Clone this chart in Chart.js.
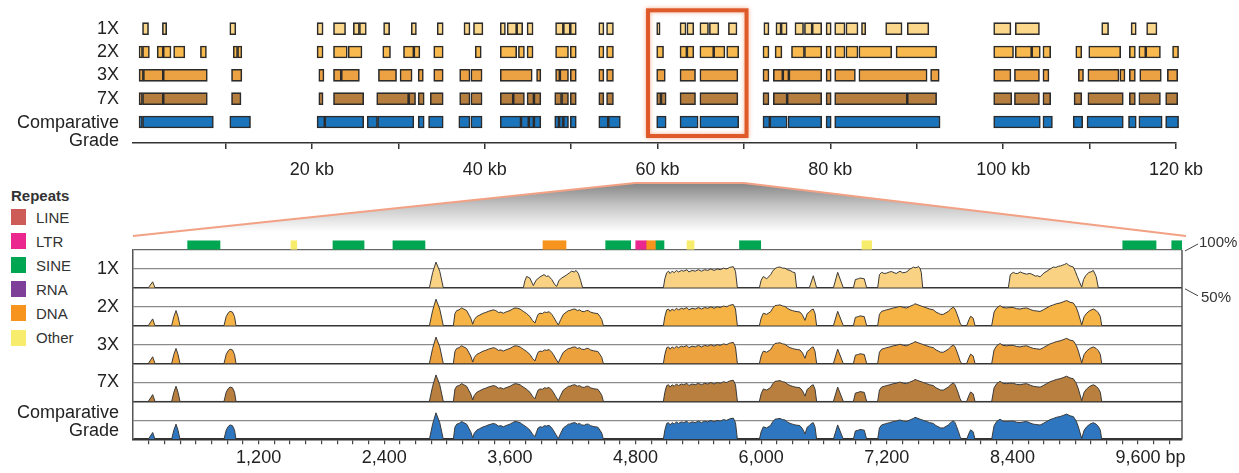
<!DOCTYPE html>
<html>
<head>
<meta charset="utf-8">
<title>Conservation by sequencing depth</title>
<script src="https://cdn.jsdelivr.net/npm/chart.js@4.4.0/dist/chart.umd.min.js"></script>
<style>
  html, body { margin: 0; padding: 0; background: #fff; }
  #wrap { position: relative; width: 1239px; height: 473px; overflow: hidden; font-family: "Liberation Sans", Arial, sans-serif; }
  #wrap canvas { position: absolute; left: 0; top: 0; }
  #legend { position: absolute; left: 11px; top: 187px; color: #333; font-size: 15px; }
  #legend .title { font-weight: bold; height: 18px; line-height: 18px; }
  #legend .item { display: flex; align-items: center; height: 24.1px; }
  #legend .sw { width: 15px; height: 16px; margin-right: 10px; }
</style>
</head>
<body>
<div id="wrap">
  <div id="legend"></div>
  <canvas id="zoomChart" width="1239" height="473"></canvas>
  <canvas id="overviewChart" width="1239" height="473"></canvas>
</div>
<script>
// ---- overview (kb): aligned blocks per sequencing depth ----
const rowLabels = ['1X', '2X', '3X', '7X', ['Comparative', 'Grade']];
const kbTicks = [10, 20, 30, 40, 50, 60, 70, 80, 90, 100, 110, 120];

const blocks1X = [[0.4,1.1],[2.7,3.2],[10.5,11.2],[20.6,21.3],[22.5,23.9],[24.8,25.5],[25.5,26.3],[28.3,29.0],[31.5,32.1],[34.5,35.2],[37.6,38.3],[38.7,39.8],[41.8,42.4],[42.6,43.7],[43.7,44.4],[44.9,45.6],[48.2,49.1],[49.1,49.9],[49.9,50.6],[53.2,53.8],[54.1,54.9],[59.9,60.3],[62.6,63.3],[63.4,64.2],[64.9,65.9],[66.0,67.1],[68.2,69.2],[72.3,72.9],[73.7,74.3],[74.3,75.0],[75.9,76.9],[77.0,77.9],[77.9,79.0],[79.5,80.1],[80.5,81.7],[81.8,83.2],[83.6,84.1],[86.4,88.3],[88.9,91.4],[98.9,100.9],[101.4,104.2],[111.4,112.2],[114.8,115.4],[116.6,117.8]];
const blocks2X = [[0,0.4],[0.4,1.2],[2.1,2.8],[2.8,3.7],[4.0,5.3],[7.1,7.8],[10.9,11.4],[11.4,11.9],[20.6,21.3],[22.5,24.1],[24.2,25.8],[28.2,29.1],[30.6,31.8],[31.8,32.5],[34.1,35.2],[38.9,39.6],[41.8,43.7],[43.9,44.6],[44.9,45.6],[48.2,49.7],[49.9,50.6],[53.2,53.8],[54.1,54.9],[59.9,60.7],[62.6,63.4],[63.4,64.2],[64.9,66.5],[66.5,67.8],[68.0,69.4],[72.2,72.9],[73.6,74.4],[75.5,77.0],[77.0,79.0],[79.5,80.1],[80.5,81.7],[81.8,83.2],[83.3,87.1],[87.6,92.3],[98.9,101.2],[101.4,103.3],[103.3,104.3],[104.6,105.5],[108.4,109.1],[109.9,113.6],[114.6,115.3],[115.7,116.5],[116.5,118.2],[119.6,120.3]];
const blocks3X = [[0,0.5],[0.5,2.8],[2.8,7.9],[10.7,11.9],[20.8,21.4],[22.5,23.4],[23.4,25.5],[27.7,29.8],[30.2,31.6],[32.3,32.9],[34.1,35.2],[37.1,38.3],[38.4,39.7],[41.8,45.5],[46.0,46.5],[48.2,48.7],[48.7,49.7],[49.9,50.6],[53.2,53.8],[54.1,54.9],[59.9,60.9],[62.6,64.4],[64.9,69.3],[72.2,72.9],[73.4,74.5],[74.5,75.2],[75.2,79.0],[79.5,80.1],[80.5,82.9],[83.3,91.2],[91.6,92.6],[98.9,100.9],[101.3,104.2],[104.6,105.3],[108.7,109.3],[109.8,113.4],[113.5,114.1],[114.6,115.3],[115.8,118.3],[119.0,120.2]];
const blocks7X = [[0,0.4],[0.4,2.8],[2.8,7.9],[10.7,11.8],[20.8,21.3],[22.5,26.0],[27.5,31.2],[31.2,32.0],[32.3,33.0],[33.7,35.2],[37.1,38.3],[38.4,39.7],[41.8,43.3],[43.3,44.6],[44.9,45.7],[45.7,46.5],[48.1,48.9],[48.9,49.7],[49.9,50.6],[53.2,53.8],[54.1,54.9],[59.9,60.4],[60.4,61.0],[62.6,64.4],[64.9,69.3],[72.2,72.9],[73.4,75.0],[75.0,79.0],[79.5,80.1],[80.5,88.9],[88.9,92.3],[98.9,101.0],[101.3,104.2],[104.6,105.5],[108.2,109.1],[109.8,113.9],[114.6,115.3],[115.7,118.2],[118.8,120.2]];
const blocksCG = [[0,0.4],[0.4,8.6],[10.5,12.9],[20.6,21.5],[21.5,26.0],[26.4,27.6],[27.6,31.8],[32.3,33.0],[33.5,35.2],[37.0,38.3],[38.4,39.7],[41.8,44.2],[44.2,45.1],[45.1,45.7],[45.7,46.5],[48.1,48.6],[48.6,49.1],[49.1,49.7],[49.9,50.6],[53.2,54.3],[54.3,55.7],[59.9,61.0],[62.6,64.7],[64.9,69.4],[72.2,73.0],[73.0,75.0],[75.1,79.0],[79.5,80.1],[80.5,92.7],[98.9,104.3],[104.6,105.7],[108.1,109.2],[109.7,113.9],[114.5,115.4],[115.7,118.4],[118.8,120.3]];

// ---- zoomed region (bp) ----
const bpTickValues = [1200, 2400, 3600, 4800, 6000, 7200, 8400, 9600];
const bpTickLabels = ['1,200', '2,400', '3,600', '4,800', '6,000', '7,200', '8,400', '9,600'];

const repeatTypes = ['LINE', 'LTR', 'SINE', 'RNA', 'DNA', 'Other'];
const repeatStart = [522, 1509, 1910, 2483, 3916, 4515, 4802, 4907, 4996, 5292, 5793, 6963, 9454, 9922];
const repeatEnd   = [831, 1564, 2207, 2789, 4136, 4754, 4907, 4996, 5072, 5359, 5996, 7056, 9772, 10017];
const repeatKind  = ['SINE', 'Other', 'SINE', 'SINE', 'DNA', 'SINE', 'LTR', 'DNA', 'SINE', 'Other', 'SINE', 'Other', 'SINE', 'SINE'];

// percent identity, [bp, %]
const identity1X = [[0,50],[146,50],[188,58],[210,50],
  [2831,50],[2862,70],[2894,84],[2930,72],[2964,50],
  [3728,50],[3745,60],[3760,65],[3790,63],[3824,53],[3850,60],[3888,64.5],[3926,67.5],[3950,65],[3967,66],[4000,61],[4030,54],[4047,52],[4070,60],[4095,63],[4142,67],[4170,70],[4190,72],[4215,71],[4232,73],[4254,69],[4275,60],[4295,50],
  [5066,50],[5080,62],[5098,70],[5115,72],[5130,69],[5150,72],[5170,70],[5190,73],[5210,71],[5240,73],[5260,72],[5290,74],[5310,71],[5340,73],[5370,72],[5400,74],[5430,72],[5460,74],[5490,73],[5520,75],[5550,73],[5580,75],[5610,74],[5640,76],[5670,75],[5700,77],[5734,78],[5755,72],[5773,50],
  [5983,50],[6000,60],[6021,65],[6053,62],[6091,67.5],[6110,72],[6132,75.5],[6155,77],[6180,77.5],[6205,76],[6228,76],[6250,74],[6276,73],[6300,71],[6323,70],[6339,50],
  [6460,50],[6498,66],[6530,50],
  [6690,50],[6731,70.5],[6785,50],
  [6881,50],[6900,61],[6928,62],[6945,63],[6985,62],[7008,50],
  [7113,50],[7130,67.5],[7151,70.5],[7175,69],[7199,69.5],[7225,71],[7247,71.5],[7270,70],[7290,69],[7326,72],[7350,70],[7380,70.5],[7400,72],[7420,75],[7440,76],[7454,77.5],[7470,76.5],[7490,77],[7502,78.5],[7520,75],[7530,70],[7543,50],
  [8361,50],[8380,67.5],[8409,70.5],[8430,69],[8450,69],[8475,71],[8500,69.5],[8536,68],[8560,69],[8580,68.5],[8620,65.5],[8640,66],[8664,64.5],[8700,69.5],[8730,72],[8750,74],[8791,77.5],[8815,77],[8840,78.5],[8860,79],[8880,80],[8900,81],[8918,82.5],[8935,80],[8950,79],[8982,77.5],[9000,72],[9020,65],[9040,58],[9062,51],[9080,61],[9100,66],[9130,70.5],[9150,71],[9173,73],[9200,65],[9221,50],
  [10020,50]];

// 2X, 3X, 7X and Comparative Grade show the same profile
const identityDeep = [[0,50],[146,50],[188,59],[210,50],
  [369,50],[390,62],[411,70],[430,62],[449,50],
  [869,50],[890,62],[910,67],[927,69],[950,68],[970,62],[984,50],
  [2831,50],[2862,70],[2894,85],[2930,72],[2964,50],
  [3060,50],[3075,66],[3092,70],[3115,71],[3139,73.5],[3160,72],[3187,70],[3210,64],[3226,60],[3245,52],[3260,58],[3283,62],[3310,64],[3346,66.5],[3370,67.5],[3394,69],[3420,70],[3442,71],[3465,70],[3490,67.5],[3515,68],[3537,66.5],[3560,68],[3580,69],[3601,70],[3625,72],[3649,73.5],[3675,73],[3697,72],[3712,70.5],[3728,69],[3760,66],[3792,62],[3815,57],[3840,53.5],[3855,60],[3870,65],[3888,66.5],[3910,66],[3930,68],[3951,67.5],[3975,68.5],[4000,65],[4015,62],[4040,56],[4063,51],[4085,58],[4111,65],[4140,68],[4160,70],[4174,70],[4195,71.5],[4222,72],[4245,70],[4265,71],[4286,69],[4310,68.5],[4330,70],[4349,70],[4370,68],[4395,67],[4413,66.5],[4440,66],[4461,62],[4478,58],[4493,50],
  [5066,50],[5080,62],[5098,71],[5115,72],[5130,69],[5150,72],[5170,70],[5190,73],[5210,71],[5240,73],[5260,72],[5290,74],[5310,71],[5340,73],[5370,72],[5400,74],[5430,72],[5460,74],[5490,73],[5520,75],[5550,73],[5580,75],[5610,74],[5640,76],[5670,75],[5700,77],[5734,78],[5755,72],[5773,50],
  [5983,50],[6000,60],[6021,66.5],[6053,65],[6091,68.5],[6110,73],[6132,76.5],[6155,77],[6180,77.5],[6205,76],[6228,75.5],[6250,73],[6276,71],[6300,70],[6323,69],[6350,68.5],[6371,68],[6395,64],[6419,57],[6440,66],[6460,68],[6480,71],[6498,72],[6515,66],[6530,50],
  [6690,50],[6731,69],[6785,50],
  [6881,50],[6900,61],[6928,62],[6945,63],[6985,62],[7008,50],
  [7113,50],[7130,65],[7151,69],[7175,70],[7199,71],[7230,72],[7263,73.5],[7290,74],[7310,75],[7326,75.5],[7360,74],[7390,73.5],[7420,75.5],[7454,77.5],[7470,79],[7490,78],[7518,76.5],[7550,75],[7581,73.5],[7610,72],[7645,71],[7670,68],[7693,66.5],[7715,65],[7740,65],[7765,67],[7788,69],[7810,72],[7836,74.5],[7852,72],[7868,66.5],[7885,60],[7900,53.5],[7916,50],
  [7963,50],[7985,58],[8001,62.5],[8025,60],[8043,50],
  [8202,50],[8225,68],[8250,73.5],[8282,76.5],[8310,74],[8345,73.5],[8375,74],[8409,74],[8440,72.5],[8473,72],[8505,73],[8536,73.5],[8570,71.5],[8600,70],[8630,69.5],[8664,68.8],[8695,71],[8727,73.5],[8760,76],[8791,77.5],[8820,79],[8855,80],[8885,81.5],[8918,83.3],[8950,81],[8982,80],[9010,74],[9030,66.5],[9062,51],[9085,62],[9109,66.5],[9140,70],[9173,72],[9200,70],[9221,67],[9240,62],[9253,50],
  [10020,50]];

const FONT = '"Liberation Sans", Arial, sans-serif';
Chart.defaults.font.family = FONT;
Chart.defaults.color = '#222';

const repeatColors = { LINE: '#cd5b58', LTR: '#ec268f', SINE: '#00a651', RNA: '#7e3f98', DNA: '#f7941e', Other: '#f8ec6c' };
const rowBlocks = [blocks1X, blocks2X, blocks3X, blocks7X, blocksCG];
const rowColors = ['#fbd78c', '#f8ba4e', '#eca243', '#b57e3f', '#1a74bb'];
const tracks = [
  { label: '1X', values: identity1X, color: '#f9d283' },
  { label: '2X', values: identityDeep, color: '#f6b346' },
  { label: '3X', values: identityDeep, color: '#eda240' },
  { label: '7X', values: identityDeep, color: '#b87f3e' },
  { label: ['Comparative', 'Grade'], values: identityDeep, color: '#2e76bf' }
];

// legend for repeats
const legendEl = document.getElementById('legend');
legendEl.innerHTML = '<div class="title">Repeats</div>' + repeatTypes.map(t =>
  `<div class="item"><span class="sw" style="background:${repeatColors[t]}"></span>${t}</div>`).join('');

// ---------- top chart ----------
const topLabelsPlugin = {
  id: 'topLabels',
  afterDraw(chart) {
    const { ctx, scales: { x, y } } = chart;
    ctx.save();
    ctx.font = '18px ' + FONT;
    ctx.fillStyle = '#222';
    ctx.textAlign = 'right';
    ctx.textBaseline = 'middle';
    rowLabels.forEach((lab, i) => {
      const py = y.getPixelForValue(i);
      if (Array.isArray(lab)) {
        ctx.fillText(lab[0], 119, py + 1);
        ctx.fillText(lab[1], 119, py + 19);
      } else {
        ctx.fillText(lab, 119, py);
      }
    });
    // highlighted region
    const x1 = x.getPixelForValue(58.9), x2 = x.getPixelForValue(70.3);
    ctx.shadowColor = 'rgba(235,120,70,0.6)';
    ctx.shadowBlur = 4;
    ctx.strokeStyle = '#df5a2a';
    ctx.lineWidth = 4;
    ctx.strokeRect(x1, 10.3, x2 - x1, 125.7);
    ctx.restore();
  }
};

const topChart = new Chart(document.getElementById('overviewChart'), {
  type: 'bar',
  data: {
    datasets: rowBlocks.map((blocks, i) => ({
      data: blocks.map(b => ({ x: b, y: i })),
      backgroundColor: rowColors[i],
      borderColor: '#2b2b2b',
      borderWidth: 1.6,
      borderSkipped: false,
      barThickness: 12,
      grouped: false,
      clip: false
    }))
  },
  options: {
    indexAxis: 'y',
    responsive: false,
    animation: false,
    events: [],
    layout: { padding: { left: 133, right: 63, top: 17, bottom: 290 } },
    plugins: { legend: { display: false }, tooltip: { enabled: false } },
    scales: {
      x: {
        type: 'linear', min: -0.7, max: 120,
        afterBuildTicks: s => { s.ticks = kbTicks.map(v => ({ value: v })); },
        afterFit: s => { s.height = 40; },
        ticks: { callback: v => (v % 20 === 0 ? v + ' kb' : ''), autoSkip: false, maxRotation: 0, padding: 10, font: { size: 18 }, color: '#222' },
        grid: { drawOnChartArea: false, tickLength: 6, color: '#333', lineWidth: 1.5 },
        border: { color: '#333', width: 1.5 }
      },
      y: { type: 'linear', reverse: true, min: -0.5, max: 4.9, offset: false, display: false }
    }
  },
  plugins: [topLabelsPlugin]
});

// ---------- zoomed chart ----------
const trackIds = ['y1', 'y2', 'y3', 'y4', 'y5'];

const zoomDecor = {
  id: 'zoomDecor',
  beforeDraw(chart) {
    const { ctx, chartArea } = chart;
    const tx = topChart.scales.x;
    const tl = tx.getPixelForValue(57.4), tr = tx.getPixelForValue(70.0);
    const topY = 183, botY = 236;
    ctx.save();
    const g = ctx.createLinearGradient(0, topY, 0, botY - 4);
    g.addColorStop(0, '#858585');
    g.addColorStop(0.45, '#c4c4c4');
    g.addColorStop(1, '#ffffff');
    ctx.beginPath();
    ctx.moveTo(chartArea.left, botY);
    ctx.lineTo(tl, topY);
    ctx.lineTo(tr, topY);
    ctx.lineTo(chartArea.right + 4, botY);
    ctx.closePath();
    ctx.fillStyle = g;
    ctx.fill();
    ctx.beginPath();
    ctx.moveTo(chartArea.left, botY);
    ctx.lineTo(tl, topY);
    ctx.lineTo(tr, topY);
    ctx.lineTo(chartArea.right + 4, botY);
    ctx.strokeStyle = '#f2a184';
    ctx.lineWidth = 2;
    ctx.stroke();
    ctx.restore();
  },
  afterDraw(chart) {
    const { ctx, chartArea, scales } = chart;
    ctx.save();
    // right frame
    ctx.strokeStyle = '#555';
    ctx.lineWidth = 1.5;
    ctx.beginPath();
    ctx.moveTo(chartArea.right, scales.y1.getPixelForValue(100));
    ctx.lineTo(chartArea.right, scales.y5.getPixelForValue(50));
    ctx.stroke();
    // track labels
    ctx.font = '18px ' + FONT;
    ctx.fillStyle = '#222';
    ctx.textAlign = 'right';
    ctx.textBaseline = 'middle';
    tracks.forEach((t, i) => {
      const mid = scales[trackIds[i]].getPixelForValue(75);
      if (Array.isArray(t.label)) {
        ctx.fillText(t.label[0], 119, mid - 7);
        ctx.fillText(t.label[1], 119, mid + 11);
      } else {
        ctx.fillText(t.label, 119, mid);
      }
    });
    // identity range notes
    const y100 = scales.y1.getPixelForValue(100), y50 = scales.y1.getPixelForValue(50);
    const rx = chartArea.right;
    ctx.strokeStyle = '#444';
    ctx.lineWidth = 1;
    ctx.beginPath();
    ctx.moveTo(rx + 3, y100 + 1); ctx.lineTo(rx + 16, y100 - 6);
    ctx.moveTo(rx + 3, y50 + 1); ctx.lineTo(rx + 16, y50 + 8);
    ctx.stroke();
    ctx.font = '15px ' + FONT;
    ctx.fillStyle = '#333';
    ctx.textAlign = 'left';
    ctx.fillText('100%', rx + 17, y100 - 7);
    ctx.fillText('50%', rx + 19, y50 + 10);
    // unit after last tick label
    const xs = scales.x;
    ctx.font = '18px ' + FONT;
    ctx.fillStyle = '#222';
    const lastV = bpTickValues[bpTickValues.length - 1];
    const w = ctx.measureText(bpTickLabels[bpTickLabels.length - 1]).width;
    ctx.fillText(' bp', xs.getPixelForValue(lastV) + w / 2, chartArea.bottom + 5 + 3 + 10.8);
    ctx.restore();
  }
};

const trackScales = {};
trackIds.forEach((id, i) => {
  trackScales[id] = {
    type: 'linear', min: 50, max: 100, position: 'left',
    stack: 'tracks', stackWeight: 1, weight: 5 - i, offset: false,
    afterFit: s => { s.width = 0; },
    ticks: { display: false, stepSize: 25 },
    grid: {
      drawTicks: false,
      color: c => c.tick.value === 50 ? '#333' : (c.tick.value === 75 ? '#8a8a8a' : (i === 0 ? '#666' : 'rgba(0,0,0,0)')),
      lineWidth: c => c.tick.value === 50 ? 1.6 : 1.2
    },
    border: { color: '#555', width: 1.5 }
  };
});

new Chart(document.getElementById('zoomChart'), {
  type: 'line',
  data: {
    datasets: [
      {
        type: 'bar',
        indexAxis: 'y',
        xAxisID: 'x',
        yAxisID: 'yr',
        data: repeatStart.map((s, i) => ({ x: [s, repeatEnd[i]], y: 0 })),
        backgroundColor: repeatKind.map(k => repeatColors[k]),
        borderWidth: 0,
        barThickness: 8.5,
        grouped: false
      },
      ...tracks.map((t, i) => ({
        type: 'line',
        xAxisID: 'x',
        yAxisID: trackIds[i],
        data: t.values.map(([x, y]) => ({ x, y })),
        borderColor: '#3a3a3a',
        borderWidth: 1,
        backgroundColor: t.color,
        fill: 'start',
        pointRadius: 0,
        tension: 0
      }))
    ]
  },
  options: {
    responsive: false,
    animation: false,
    events: [],
    layout: { padding: { left: 133, right: 57, top: 240, bottom: 3.7 } },
    plugins: { legend: { display: false }, tooltip: { enabled: false } },
    scales: {
      x: {
        type: 'linear', min: 0, max: 10020,
        afterBuildTicks: s => {
          const t = [];
          for (let v = 150; v <= 9900; v += 150) t.push({ value: v });
          s.ticks = t;
        },
        afterFit: s => { s.height = 30; },
        ticks: {
          callback: v => { const k = bpTickValues.indexOf(v); return k >= 0 ? bpTickLabels[k] : ''; },
          autoSkip: false, maxRotation: 0, padding: 3, font: { size: 18 }, color: '#222'
        },
        grid: { drawOnChartArea: false, tickLength: 5, color: '#444', lineWidth: 1.2 },
        border: { color: '#333', width: 1.6 }
      },
      yr: {
        type: 'linear', min: -0.5, max: 0.5, position: 'left', offset: false,
        stack: 'tracks', stackWeight: 0.264, weight: 6,
        afterFit: s => { s.width = 0; },
        ticks: { display: false },
        grid: { display: false },
        border: { display: false }
      },
      ...trackScales
    }
  },
  plugins: [zoomDecor]
});
</script>
</body>
</html>
